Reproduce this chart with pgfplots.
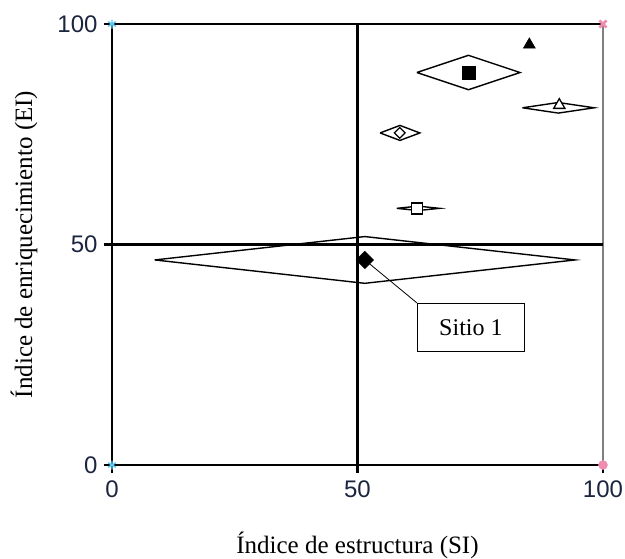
\documentclass[border=0pt]{standalone}
\usepackage{fontspec}
\setmainfont{Liberation Serif}
\newfontfamily\arialf{Liberation Sans}
\usepackage{pgfplots}
\pgfplotsset{compat=1.18}
\definecolor{navy}{HTML}{1C2540}
\definecolor{cyanm}{HTML}{5BC8F0}
\definecolor{pinkm}{HTML}{F08CB0}
\begin{document}
\begin{tikzpicture}
\begin{axis}[
  at={(0,0)}, anchor=south west,
  scale only axis, width=491pt, height=441pt,
  xmin=0, xmax=100, ymin=0, ymax=100,
  clip=false,
  xtick={0,50,100}, ytick={0,50,100},
  tick align=outside, tick pos=left,
  major tick length=8pt,
  every tick/.style={black, line width=2.2pt},
  axis line style={black, line width=2.6pt},
  ticklabel style={font=\arialf\fontsize{24}{24}\selectfont, text=navy},
  /pgf/number format/assume math mode=true,
  xticklabel style={yshift=-4pt},
  yticklabel style={xshift=-3pt},
  xlabel={Índice de estructura (SI)},
  ylabel={Índice de enriquecimiento (EI)},
  label style={font=\fontsize{25}{25}\selectfont},
  xlabel style={at={(axis description cs:0.5,0)}, anchor=center, yshift=-80pt},
  ylabel style={at={(axis description cs:0,0.5)}, anchor=center, yshift=88pt},
]
% right axis line (gray) and centre lines
\addplot[gray, line width=2.6pt] coordinates {(100,0) (100,100)};
\addplot[black, line width=2.2pt] coordinates {(50,0) (50,100)};
\addplot[black, line width=2.2pt] coordinates {(0,50) (100,50)};
% error diamonds
\addplot[black, line width=1.4pt] coordinates {(8.7,46.5) (51.5,51.8) (94.3,46.5) (51.5,41.2) (8.7,46.5)};
\addplot[black, line width=1.4pt] coordinates {(62.1,89) (72.6,92.9) (83.1,89) (72.6,85.1) (62.1,89)};
\addplot[black, line width=1.4pt] coordinates {(83.6,81) (90.9,82.2) (98.2,81) (90.9,79.8) (83.6,81)};
\addplot[black, line width=1.4pt] coordinates {(54.6,75.3) (58.65,77.0) (62.7,75.3) (58.65,73.6) (54.6,75.3)};
\addplot[black, line width=1.4pt] coordinates {(58.0,58.2) (62.35,58.7) (66.7,58.2) (62.35,57.7) (58.0,58.2)};
% annotation
\node[draw=black, line width=1pt, fill=white, minimum width=107pt, minimum height=48pt,
      font=\fontsize{24}{24}\selectfont] (s1) at (axis cs:73.1,31.2) {Sitio 1};
\draw[black, line width=0.8pt] (axis cs:51.5,46.5) -- (s1.north west);
% markers
\addplot[only marks, mark=square*, mark size=6.2pt, mark options={fill=black, draw=black, rotate=45}] coordinates {(51.5,46.5)};
\addplot[only marks, mark=square*, mark size=6.5pt, mark options={fill=black, draw=black}] coordinates {(72.6,89)};
\addplot[only marks, mark=triangle*, mark size=7pt, mark options={fill=black, draw=black}] coordinates {(85,95.3)};
\addplot[only marks, mark=triangle*, mark size=6.5pt, mark options={fill=white, draw=black, line width=1.3pt}] coordinates {(91.1,81.6)};
\addplot[only marks, mark=square*, mark size=3.8pt, mark options={fill=white, draw=black, line width=1.3pt, rotate=45}] coordinates {(58.6,75.3)};
\addplot[only marks, mark=square*, mark size=5.5pt, mark options={fill=white, draw=black, line width=1.6pt}] coordinates {(62.1,58.2)};
% corner markers
\addplot[only marks, mark=asterisk, mark size=4.5pt, cyanm, mark options={line width=1.4pt}] coordinates {(0,0) (0,100)};
\addplot[only marks, mark=x, mark size=5pt, pinkm, mark options={line width=2.5pt}] coordinates {(100,100)};
\addplot[only marks, mark=*, mark size=4.5pt, pinkm] coordinates {(100,0)};
\end{axis}
\pgfresetboundingbox
\path[use as bounding box] (-112pt,-93pt) rectangle (513pt,465pt);
\end{tikzpicture}
\end{document}
